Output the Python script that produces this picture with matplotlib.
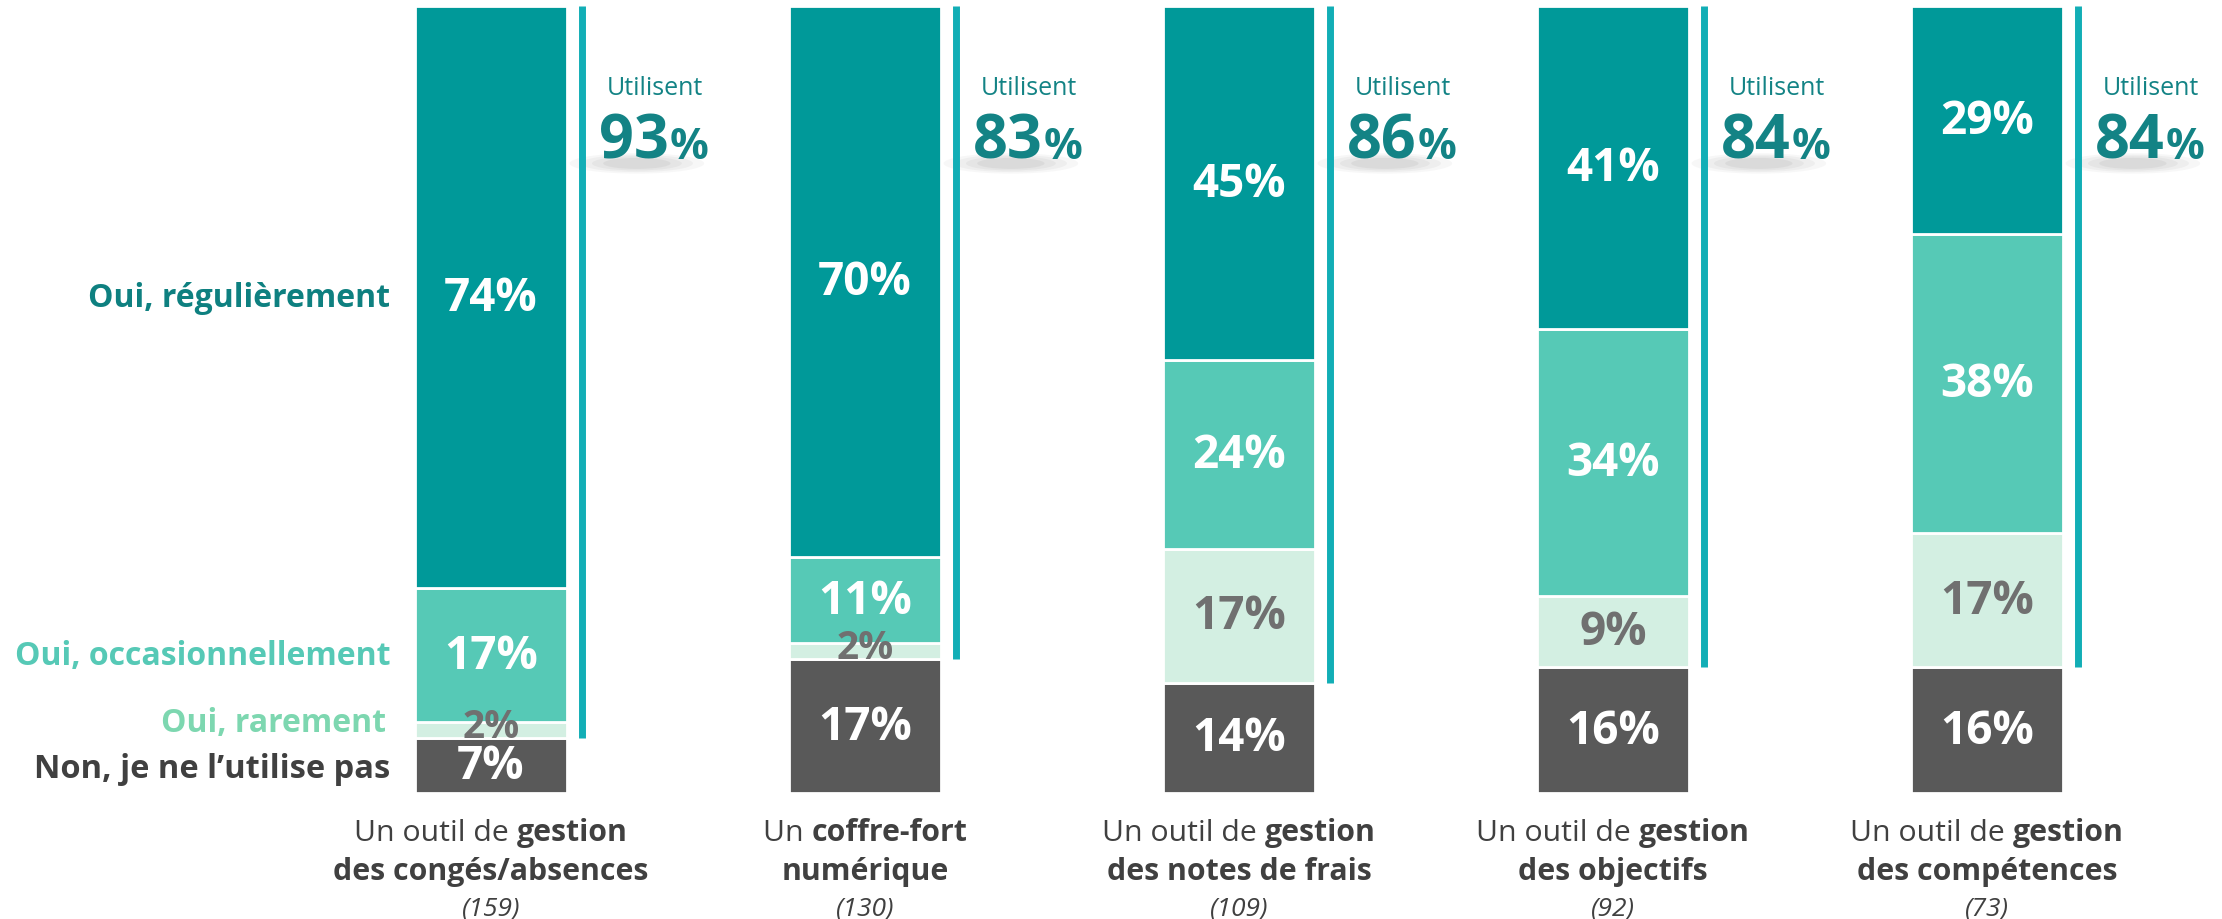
import numpy as np
import matplotlib
matplotlib.use("Agg")
import matplotlib.pyplot as plt
from matplotlib.patches import Ellipse

plt.rcParams['font.family'] = ['Open Sans', 'DejaVu Sans']

# données
outils_debut = ["Un outil de ", "Un ", "Un outil de ", "Un outil de ", "Un outil de "]
outils_gras1 = ["gestion", "coffre-fort", "gestion", "gestion", "gestion"]
outils_gras2 = ["des congés/absences", "numérique", "des notes de frais", "des objectifs", "des compétences"]
effectifs = [159, 130, 109, 92, 73]

regulier = [74, 70, 45, 41, 29]
occasion = [17, 11, 24, 34, 38]
rarement = [2, 2, 17, 9, 17]
jamais = [7, 17, 14, 16, 16]
utilisent = [93, 83, 86, 84, 84]

modalites = ["Oui, régulièrement", "Oui, occasionnellement", "Oui, rarement", "Non, je ne l’utilise pas"]

c_reg = '#009999'
c_occ = '#56C9B6'
c_rar = '#D3EFE2'
c_non = '#595959'
c_ligne = '#12AEB6'
c_txt = '#404040'
c_big = '#138385'

fig = plt.figure(figsize=(22.22, 9.2), dpi=100)
ax = fig.add_axes([0, 126 / 920, 1, 787 / 920])
x = np.arange(len(regulier))
w = 152 / 374
ax.set_xlim(-491 / 374, (2222 - 491) / 374)
ax.set_ylim(0, 100)
ax.axis('off')

jamais = np.array(jamais)
rarement = np.array(rarement)
occasion = np.array(occasion)
regulier = np.array(regulier)

b0 = np.zeros(len(x))
b1 = jamais
b2 = b1 + rarement
b3 = b2 + occasion
series = [(jamais, b0, c_non, 'white'), (rarement, b1, c_rar, '#707070'),
          (occasion, b2, c_occ, 'white'), (regulier, b3, c_reg, 'white')]

for vals, bot, col, tcol in series:
    ax.bar(x, vals, bottom=bot, width=w, color=col, edgecolor='white', linewidth=2)
    for i in range(len(x)):
        v = vals[i]
        fs = 28 if v < 5 else 33
        c = '#707070' if v < 5 else tcol
        dy = 0.5 if v < 5 else 0
        ax.text(x[i], bot[i] + v / 2 + dy, f"{v}%", ha='center', va='center',
                fontsize=fs, fontweight='bold', color=c)

# ligne "Utilisent"
for i in range(len(x)):
    ax.plot([x[i] + 0.242, x[i] + 0.242], [100, jamais[i]], color=c_ligne, lw=5,
            solid_capstyle='butt')
    xs = x[i] + 0.437
    for k, a in enumerate([0.06, 0.07, 0.08, 0.10]):
        ax.add_patch(Ellipse((x[i] + 0.39, 80.0), 0.36 - k * 0.06, 2.6 - k * 0.4,
                             color='#808080', alpha=a, lw=0))
    ax.text(xs, 89.6, "Utilisent", ha='center', va='center', fontsize=18, color=c_big)
    ax.text(x[i] + 0.476, 80.7, f"{utilisent[i]}", ha='right', va='baseline',
            fontsize=44, fontweight='bold', color=c_big)
    ax.text(x[i] + 0.478, 80.7, "%", ha='left', va='baseline',
            fontsize=31, fontweight='bold', color=c_big)

# étiquettes des modalités
lx = -0.27
ax.text(lx, b3[0] + regulier[0] / 2, modalites[0], ha='right', va='center',
        fontsize=23, fontweight='bold', color='#0E8080')
ax.text(lx, b2[0] + occasion[0] / 2, modalites[1], ha='right', va='center',
        fontsize=23, fontweight='bold', color=c_occ)
ax.text(lx - 0.01, b1[0] + rarement[0] / 2 + 1, modalites[2], ha='right', va='center',
        fontsize=23, fontweight='bold', color='#7DD7B0')
ax.text(lx, jamais[0] / 2 - 0.4, modalites[3], ha='right', va='center',
        fontsize=23.5, fontweight='bold', color=c_txt)

# libellés des outils
fig.canvas.draw()
r = fig.canvas.get_renderer()
for i in range(len(x)):
    t1 = ax.text(0, -5.0, outils_debut[i], ha='left', va='center', fontsize=21.8,
                 color=c_txt, clip_on=False)
    t2 = ax.text(0, -5.0, outils_gras1[i], ha='left', va='center', fontsize=21.8,
                 fontweight='bold', color=c_txt, clip_on=False)
    w1 = t1.get_window_extent(r).width / 374
    w2 = t2.get_window_extent(r).width / 374
    start = x[i] - (w1 + w2) / 2
    t1.set_x(start)
    t2.set_x(start + w1)
    ax.text(x[i], -9.9, outils_gras2[i], ha='center', va='center', fontsize=21.8,
            fontweight='bold', color=c_txt, clip_on=False)
    ax.text(x[i], -14.6, f"({effectifs[i]})", ha='center', va='center', fontsize=19,
            style='italic', color=c_txt, clip_on=False)

fig.savefig("out.png", dpi=100, facecolor='white')
